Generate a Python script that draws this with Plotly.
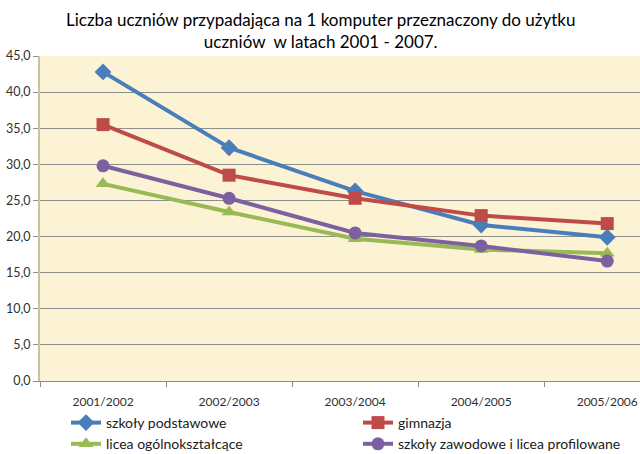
import plotly.graph_objects as go

categories = ["2001/2002", "2002/2003", "2003/2004", "2004/2005", "2005/2006"]
szkoly_podstawowe = [42.8, 32.3, 26.3, 21.6, 19.9]
gimnazja = [35.5, 28.5, 25.3, 22.9, 21.8]
licea_ogolnoksztalcace = [27.3, 23.4, 19.7, 18.2, 17.7]
szkoly_zawodowe = [29.8, 25.3, 20.5, 18.7, 16.6]
title_text = "Liczba uczniów przypadająca na 1 komputer przeznaczony do użytku<br>uczniów  w latach 2001 - 2007."

series = [
    ("szkoły podstawowe", szkoly_podstawowe, "#4A7EBB", "diamond", 13),
    ("gimnazja", gimnazja, "#BE4B48", "square", 13),
    ("licea ogólnokształcące", licea_ogolnoksztalcace, "#98B954", "triangle-up", 13),
    ("szkoły zawodowe i licea profilowane", szkoly_zawodowe, "#7D60A0", "circle", 13),
]

fig = go.Figure()
for name, vals, col, sym, sz in series:
    fig.add_trace(go.Scatter(
        x=categories, y=vals, name=name, mode="lines+markers",
        line=dict(color=col, width=4),
        marker=dict(symbol=sym, size=sz, color=col, line=dict(width=0)),
    ))

fig.add_annotation(
    text=title_text, xref="paper", yref="paper", x=0.467, y=(381 - 7) / 325,
    xanchor="center", yanchor="top", showarrow=False, align="center",
    font=dict(size=17, color="#000000", family="Lato, sans-serif"),
)

fig.update_layout(
    width=640, height=454,
    margin=dict(l=40, r=0, t=56, b=73, autoexpand=False),
    paper_bgcolor="white", plot_bgcolor="#FCF2D4",
    font=dict(family="Lato, sans-serif", color="#303030", size=12),
    separators=", ",
    xaxis=dict(
        type="category", range=[-0.5, 4.26], showgrid=False, showline=True, linecolor="#8C8C8C", linewidth=1,
        ticks="outside", ticklen=5, tickcolor="#8C8C8C", tickson="boundaries", ticklabelstandoff=10,
        tickfont=dict(size=12, color="#303030"), zeroline=False,
    ),
    yaxis=dict(
        range=[0, 45], dtick=5, tickformat=".1f", showgrid=True, gridcolor="#8E8E8E", gridwidth=1,
        showline=True, linecolor="#C8C0A8", linewidth=2, ticks="outside", ticklen=5, tickcolor="#8C8C8C",
        tickfont=dict(size=12.5, color="#303030"), zeroline=False,
    ),
    legend=dict(
        orientation="h", xref="container", x=66 / 640, xanchor="left",
        yref="container", y=1 - 407 / 454, yanchor="top",
        entrywidth=247, entrywidthmode="pixels", tracegroupgap=0,
        font=dict(size=14, color="#202020"), bgcolor="rgba(0,0,0,0)", itemwidth=30,
    ),
    showlegend=True,
)

fig.write_html("out.html")
